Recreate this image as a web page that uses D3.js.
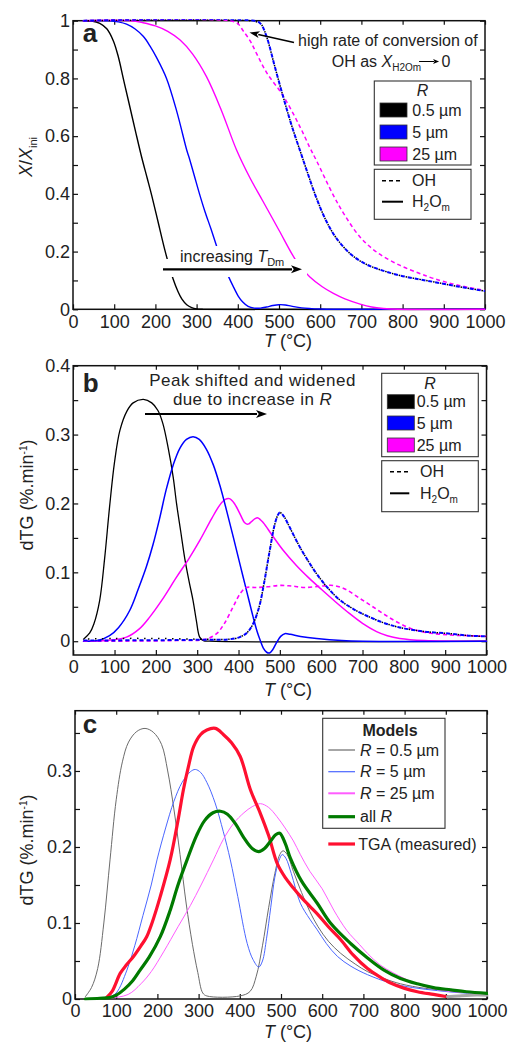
<!DOCTYPE html>
<html>
<head>
<meta charset="utf-8">
<script src="https://cdn.jsdelivr.net/npm/d3@7"></script>
<style>
  body { margin: 0; background: #fff; }
  svg { display: block; }
  text { font-family: "Liberation Sans", Arial, Helvetica, sans-serif; fill: #222; }
</style>
</head>
<body>
<svg id="fig" width="512" height="1042"></svg>
<script>
// ---------- shared axis values ----------
const tempTicks = [0, 100, 200, 300, 400, 500, 600, 700, 800, 900, 1000];
const yMajorA = [0, 0.2, 0.4, 0.6, 0.8, 1];
const yMinorA = [0.1, 0.3, 0.5, 0.7, 0.9];
const yMajorB = [0, 0.1, 0.2, 0.3, 0.4];
const yMinorB = [0.05, 0.15, 0.25, 0.35];
const yMajorC = [0, 0.1, 0.2, 0.3];
const yMinorC = [0.05, 0.15, 0.25, 0.35];

// ---------- panel a: remaining fraction X/X_ini, [T (°C), value] ----------
const aH2Om05 = [[25,1],[45,0.999],[65,0.991],[82,0.972],[98,0.93],[110,0.875],[122,0.8],[135,0.72],[152,0.615],[167,0.525],[180,0.455],[191,0.395],[207,0.3],[223,0.205],[235,0.142],[243,0.105],[254,0.064],[264,0.036],[276,0.016],[288,0.006],[300,0.0015],[315,0],[1000,0]];
const aH2Om5 = [[25,1],[90,1],[110,0.996],[130,0.988],[150,0.972],[171,0.945],[187,0.912],[203,0.872],[227,0.8],[252,0.685],[276,0.552],[282,0.525],[295,0.46],[307,0.4],[320,0.34],[335,0.278],[349,0.217],[362,0.165],[377,0.115],[390,0.076],[401,0.046],[412,0.025],[425,0.01],[440,0.004],[455,0.004],[470,0.008],[485,0.013],[500,0.016],[515,0.015],[530,0.011],[555,0.005],[600,0.001],[650,0],[1000,0]];
const aH2Om25 = [[25,1],[140,1],[170,0.993],[200,0.982],[230,0.963],[260,0.933],[290,0.885],[324,0.806],[360,0.69],[397,0.552],[430,0.454],[460,0.377],[500,0.274],[539,0.174],[557,0.14],[575,0.112],[605,0.078],[632,0.055],[660,0.036],[697,0.018],[725,0.008],[753,0.003],[790,0],[1000,0]];
const aOH05 = [[25,1],[430,1],[448,0.995],[458,0.985],[470,0.944],[490,0.84],[510,0.737],[530,0.64],[551,0.55],[570,0.47],[591,0.385],[615,0.305],[640,0.245],[675,0.19],[713,0.155],[750,0.135],[794,0.117],[840,0.104],[875,0.095],[930,0.08],[1000,0.063]];
const aOH5 = [[25,1],[440,1],[455,0.99],[470,0.944],[490,0.84],[510,0.737],[530,0.64],[551,0.55],[570,0.47],[591,0.385],[615,0.305],[640,0.245],[675,0.19],[713,0.155],[750,0.135],[794,0.117],[840,0.104],[875,0.095],[930,0.08],[1000,0.063]];
const aOH25 = [[25,1],[380,1],[400,0.99],[413,0.965],[430,0.93],[446,0.885],[470,0.82],[510,0.74],[550,0.635],[575,0.56],[591,0.515],[632,0.395],[660,0.325],[697,0.25],[740,0.195],[794,0.152],[840,0.125],[875,0.107],[930,0.085],[1000,0.065]];

// ---------- panel b: modelled dTG (%.min-1) ----------
const bH2Om05 = [[25,0.003],[40,0.012],[50,0.025],[64,0.059],[76,0.12],[88,0.195],[100,0.26],[113,0.306],[130,0.334],[145,0.346],[170,0.351],[190,0.346],[205,0.335],[217,0.316],[230,0.28],[242,0.238],[250,0.2],[260,0.16],[270,0.12],[280,0.088],[290,0.059],[298,0.03],[306,0.006],[315,0.001],[330,0],[1000,0]];
const bH2Om5 = [[25,0],[60,0.001],[88,0.008],[110,0.02],[137,0.045],[157,0.075],[177,0.108],[193,0.14],[209,0.178],[225,0.22],[242,0.256],[258,0.28],[274,0.293],[290,0.297],[305,0.293],[322,0.279],[339,0.256],[355,0.226],[371,0.19],[387,0.152],[403,0.113],[420,0.072],[435,0.036],[445,0.014],[452,0.002],[460,-0.01],[468,-0.016],[475,-0.017],[483,-0.012],[492,-0.002],[502,0.007],[512,0.011],[525,0.01],[550,0.007],[589,0.004],[650,0.001],[700,0],[1000,0]];
const bH2Om25 = [[25,0],[80,0.001],[129,0.006],[160,0.018],[185,0.035],[215,0.06],[250,0.093],[280,0.12],[306,0.146],[335,0.178],[355,0.198],[368,0.206],[378,0.207],[390,0.2],[405,0.183],[415,0.172],[423,0.17],[432,0.174],[440,0.178],[447,0.179],[460,0.172],[480,0.155],[508,0.132],[540,0.11],[570,0.092],[601,0.075],[635,0.057],[669,0.04],[700,0.026],[734,0.014],[760,0.008],[790,0.004],[850,0.001],[1000,0]];
const bOH05 = [[25,0.003],[100,0.004],[200,0.004],[300,0.003],[380,0.003],[403,0.006],[420,0.012],[435,0.025],[450,0.05],[462,0.085],[475,0.13],[487,0.168],[495,0.183],[500,0.187],[510,0.181],[520,0.17],[535,0.152],[550,0.135],[570,0.115],[590,0.097],[615,0.078],[645,0.06],[680,0.046],[710,0.037],[750,0.027],[790,0.02],[850,0.014],[912,0.011],[960,0.008],[1000,0.007]];
const bOH5 = [[25,0.001],[300,0.002],[380,0.003],[403,0.006],[420,0.012],[435,0.025],[450,0.05],[462,0.085],[475,0.13],[487,0.168],[495,0.183],[500,0.187],[510,0.181],[520,0.17],[535,0.152],[550,0.135],[570,0.115],[590,0.097],[615,0.078],[645,0.06],[680,0.046],[710,0.037],[750,0.027],[790,0.02],[850,0.014],[912,0.011],[960,0.008],[1000,0.007]];
const bOH25 = [[25,0],[250,0.001],[320,0.003],[347,0.011],[365,0.025],[387,0.05],[405,0.07],[419,0.078],[440,0.078],[470,0.079],[500,0.081],[530,0.08],[560,0.078],[600,0.08],[629,0.081],[660,0.075],[694,0.062],[720,0.052],[750,0.04],[780,0.029],[815,0.019],[850,0.013],[912,0.009],[960,0.008],[1000,0.007]];

// ---------- panel c: models vs. measured TGA ----------
const cModel05 = [[25,0.003],[40,0.015],[55,0.04],[70,0.1],[85,0.183],[100,0.262],[115,0.312],[130,0.338],[150,0.352],[170,0.356],[190,0.351],[210,0.335],[225,0.3],[240,0.25],[255,0.19],[270,0.125],[285,0.072],[298,0.035],[310,0.008],[320,0.004],[400,0.004],[425,0.01],[440,0.03],[455,0.07],[470,0.12],[485,0.165],[497,0.19],[505,0.195],[515,0.19],[530,0.168],[550,0.14],[570,0.115],[590,0.095],[615,0.076],[645,0.06],[680,0.046],[710,0.036],[750,0.027],[790,0.02],[850,0.014],[910,0.011],[1000,0.007]];
const cModel5 = [[25,0],[80,0.002],[100,0.008],[126,0.038],[145,0.07],[165,0.11],[185,0.15],[199,0.183],[220,0.225],[240,0.26],[260,0.285],[280,0.299],[292,0.302],[305,0.298],[320,0.285],[340,0.258],[360,0.22],[377,0.183],[395,0.135],[418,0.073],[432,0.052],[446,0.042],[455,0.05],[465,0.08],[475,0.12],[485,0.16],[495,0.182],[503,0.19],[512,0.185],[525,0.165],[547,0.126],[570,0.105],[588,0.091],[610,0.073],[637,0.056],[670,0.043],[710,0.032],[766,0.021],[820,0.015],[880,0.011],[940,0.008],[1000,0.007]];
const cModel25 = [[25,0],[80,0.001],[129,0.006],[160,0.02],[185,0.036],[215,0.062],[250,0.095],[280,0.123],[306,0.15],[336,0.183],[360,0.21],[385,0.231],[410,0.245],[430,0.253],[450,0.257],[470,0.252],[490,0.24],[510,0.225],[530,0.208],[547,0.19],[570,0.168],[600,0.145],[628,0.117],[660,0.09],[690,0.072],[710,0.06],[740,0.045],[774,0.034],[820,0.022],[864,0.014],[910,0.01],[960,0.008],[1000,0.007]];
const cAllR = [[25,0],[60,0.001],[85,0.002],[100,0.005],[120,0.013],[140,0.024],[158,0.038],[180,0.055],[207,0.082],[230,0.115],[250,0.15],[272,0.183],[295,0.215],[315,0.235],[335,0.245],[353,0.247],[370,0.243],[390,0.23],[410,0.212],[430,0.198],[446,0.194],[460,0.198],[475,0.208],[487,0.216],[497,0.218],[510,0.205],[523,0.185],[550,0.155],[588,0.126],[620,0.1],[669,0.073],[710,0.054],[750,0.038],[790,0.027],[831,0.02],[870,0.015],[912,0.012],[950,0.0095],[1000,0.0075]];
const cTGA = [[77,0.002],[90,0.01],[110,0.034],[125,0.045],[142,0.056],[160,0.07],[174,0.082],[190,0.105],[207,0.135],[231,0.183],[250,0.235],[263,0.275],[275,0.305],[288,0.332],[305,0.348],[320,0.354],[341,0.356],[360,0.348],[380,0.337],[401,0.319],[426,0.275],[450,0.244],[470,0.215],[491,0.178],[510,0.16],[530,0.146],[547,0.135],[570,0.122],[588,0.112],[615,0.095],[645,0.078],[675,0.058],[710,0.04],[740,0.029],[766,0.021],[800,0.014],[831,0.0096],[870,0.006],[904,0.003]];
const cTGATail = [[904,0.003],[930,0.004],[960,0.005],[1000,0.005]];

// ---------- colours ----------
const COL = { black: "#000000", blue: "#0000ff", magenta: "#ff00ff",
              gray: "#6b6b6b", lblue: "#4a66ff", pink: "#ff5cff", green: "#007a00", red: "#ff1030", tail: "#a8a8a8" };

const svg = d3.select("#fig");
const defs = svg.append("defs");

// text with italic / sub / superscript runs
function rich(parent, x, y, parts, opts = {}) {
  const t = parent.append("text").attr("x", x).attr("y", y)
    .attr("font-size", opts.size || 16).attr("text-anchor", opts.anchor || "start");
  if (opts.weight) t.attr("font-weight", opts.weight);
  if (opts.transform) t.attr("transform", opts.transform);
  if (opts.spacing) t.attr("letter-spacing", opts.spacing);
  let shift = 0;
  parts.forEach(p => {
    const s = t.append("tspan").text(p.t);
    const target = p.sub ? p.sub : (p.sup ? -p.sup : 0);
    s.attr("dy", target - shift);
    shift = target;
    if (p.size) s.attr("font-size", p.size);
    if (p.it) s.attr("font-style", "italic");
  });
  return t;
}

function makePanel(id, cfg) {
  const x = d3.scaleLinear().domain([0, 1000]).range([cfg.left, cfg.right]);
  const y = d3.scaleLinear().domain(cfg.yDomain).range([cfg.bottom, cfg.top]);
  const g = svg.append("g");

  const styleAxis = sel => {
    sel.select(".domain").remove();
    sel.attr("font-size", 18).attr("font-family", '"Liberation Sans", Arial, sans-serif');
    sel.selectAll(".tick line").attr("stroke", "#111").attr("stroke-width", 1.2);
    sel.selectAll(".tick text").attr("fill", "#222");
  };

  g.append("g").attr("transform", `translate(0,${cfg.bottom})`)
    .call(d3.axisBottom(x).tickValues(tempTicks).tickFormat(d3.format("d")).tickSize(-5).tickSizeOuter(0).tickPadding(5.5))
    .call(styleAxis);
  g.append("g").attr("transform", `translate(0,${cfg.top})`)
    .call(d3.axisTop(x).tickValues(tempTicks).tickFormat("").tickSize(-4).tickSizeOuter(0))
    .call(styleAxis);
  g.append("g").attr("transform", `translate(${cfg.left},0)`)
    .call(d3.axisLeft(y).tickValues(cfg.yMajor).tickFormat(d => String(d)).tickSize(-5).tickSizeOuter(0).tickPadding(3))
    .call(styleAxis);
  g.append("g").attr("transform", `translate(${cfg.left},0)`)
    .call(d3.axisLeft(y).tickValues(cfg.yMinor).tickFormat("").tickSize(-5).tickSizeOuter(0))
    .call(styleAxis);
  g.append("g").attr("transform", `translate(${cfg.right},0)`)
    .call(d3.axisRight(y).tickValues(cfg.yMajor.concat(cfg.yMinor)).tickFormat("").tickSize(-5).tickSizeOuter(0))
    .call(styleAxis);

  g.append("rect").attr("x", cfg.left).attr("y", cfg.top)
    .attr("width", cfg.right - cfg.left).attr("height", cfg.bottom - cfg.top)
    .attr("fill", "none").attr("stroke", "#111").attr("stroke-width", 1.5);

  defs.append("clipPath").attr("id", "clip-" + id).append("rect")
    .attr("x", cfg.left - 1).attr("y", cfg.top - 1.5)
    .attr("width", cfg.right - cfg.left + 2).attr("height", cfg.bottom - cfg.top + 3);
  const plot = svg.append("g").attr("clip-path", `url(#clip-${id})`);
  const over = svg.append("g");
  return { x, y, plot, over };
}

function curve(p, data, color, width, dash, offset) {
  const line = d3.line().x(d => p.x(d[0])).y(d => p.y(d[1])).curve(d3.curveCatmullRom.alpha(0.5));
  const path = p.plot.append("path").datum(data).attr("d", line)
    .attr("fill", "none").attr("stroke", color).attr("stroke-width", width)
    .attr("stroke-linejoin", "round").attr("stroke-linecap", dash ? "butt" : "round");
  if (dash) path.attr("stroke-dasharray", dash);
  if (offset) path.attr("stroke-dashoffset", offset);
  return path;
}

function arrow(parent, x1, y1, x2, y2, w, head) {
  const ang = Math.atan2(y2 - y1, x2 - x1);
  const hl = head[0], hw = head[1];
  const bx = x2 - hl * Math.cos(ang), by = y2 - hl * Math.sin(ang);
  parent.append("line").attr("x1", x1).attr("y1", y1).attr("x2", bx + Math.cos(ang)).attr("y2", by + Math.sin(ang))
    .attr("stroke", "#000").attr("stroke-width", w);
  const px = -Math.sin(ang) * hw / 2, py = Math.cos(ang) * hw / 2;
  parent.append("path")
    .attr("d", `M${x2},${y2}L${bx + px},${by + py}L${bx + hl * 0.25 * Math.cos(ang)},${by + hl * 0.25 * Math.sin(ang)}L${bx - px},${by - py}Z`)
    .attr("fill", "#000");
}

// legend with R swatches and OH / H2Om line styles
function legend(p, box) {
  const g = p.over;
  g.append("rect").attr("x", box.x).attr("y", box.y1).attr("width", box.w).attr("height", box.h1)
    .attr("fill", "#fff").attr("stroke", "#333").attr("stroke-width", 1.1);
  g.append("rect").attr("x", box.x).attr("y", box.y2).attr("width", box.w).attr("height", box.h2)
    .attr("fill", "#fff").attr("stroke", "#333").attr("stroke-width", 1.1);
  rich(g, box.x + box.w / 2, box.titleY, [{ t: "R", it: true }], { size: 16, anchor: "middle" });
  const items = [["0.5 µm", COL.black], ["5 µm", COL.blue], ["25 µm", COL.magenta]];
  items.forEach((it, i) => {
    g.append("rect").attr("x", box.sx).attr("y", box.rows[i] - 7).attr("width", 27).attr("height", 14)
      .attr("fill", it[1]).attr("stroke", "#333").attr("stroke-width", 0.8);
    rich(g, box.tx, box.rows[i] + 5.7, [{ t: it[0] }], { size: 16 });
  });
  g.append("line").attr("x1", box.lx1).attr("x2", box.lx2).attr("y1", box.ohY).attr("y2", box.ohY)
    .attr("stroke", "#000").attr("stroke-width", 1.6).attr("stroke-dasharray", "4,3");
  rich(g, box.ltx, box.ohY + 5.7, [{ t: "OH" }], { size: 16 });
  g.append("line").attr("x1", box.lx1).attr("x2", box.lx2).attr("y1", box.hY).attr("y2", box.hY)
    .attr("stroke", "#000").attr("stroke-width", 2);
  rich(g, box.ltx, box.hY + 5.7, [{ t: "H" }, { t: "2", sub: 4, size: 10 }, { t: "O" }, { t: "m", sub: 4, size: 10 }], { size: 16 });
}

// ================= panel a =================
const pa = makePanel("a", { left: 73, right: 485, top: 20.7, bottom: 309.3, yDomain: [0, 1], yMajor: yMajorA, yMinor: yMinorA });
curve(pa, aH2Om05, COL.black, 1.4);
curve(pa, aH2Om5, COL.blue, 1.4);
curve(pa, aH2Om25, COL.magenta, 1.4);
curve(pa, aOH25, COL.magenta, 1.5, "4,3");
curve(pa, aOH5, COL.blue, 2, "4,3");
curve(pa, aOH05, COL.black, 1.5, "1.5,5.5", 2.5);

// label band behind the "increasing T_Dm" arrow
pa.over.append("rect").attr("x", 176).attr("y", 246).attr("width", 110).attr("height", 16).attr("fill", "#fff");
pa.over.append("rect").attr("x", 160).attr("y", 259).attr("width", 147).attr("height", 18).attr("fill", "#fff");
rich(pa.over, 180, 262.4, [{ t: "increasing " }, { t: "T", it: true }, { t: "Dm", sub: 4, size: 11 }], { size: 16 });
arrow(pa.over, 163, 269.3, 302, 269.3, 2.2, [11, 8]);

rich(pa.over, 298, 45.7, [{ t: "high rate of conversion of" }], { size: 16 });
const ohText = rich(pa.over, 331.7, 67.4, [{ t: "OH as " }, { t: "X", it: true }, { t: "H2Om", sub: 4, size: 10 }], { size: 16 });
const ohEnd = 331.7 + ohText.node().getComputedTextLength();
arrow(pa.over, ohEnd - 2, 61.5, ohEnd + 18, 61.5, 1, [6, 5]);
rich(pa.over, ohEnd + 20.5, 67.4, [{ t: "0" }], { size: 16 });
arrow(pa.over, 294, 42.5, 249.5, 32.5, 1.6, [10, 7]);

rich(pa.over, 82.7, 41.7, [{ t: "a" }], { size: 26, weight: "bold" });

legend(pa, { x: 374.3, w: 96.7, y1: 81, h1: 84, y2: 169.3, h2: 50, titleY: 95.7,
  sx: 380, tx: 412.3, rows: [110, 132, 154], lx1: 382, lx2: 403, ltx: 412, ohY: 180.7, hY: 201.7 });

rich(pa.over, 288, 346.9, [{ t: "T", it: true }, { t: " (°C)" }], { size: 18, anchor: "middle" });
rich(svg, 0, 0, [{ t: "X", it: true }, { t: "/" }, { t: "X", it: true }, { t: "ini", sub: 5, size: 11 }],
  { size: 18, anchor: "middle", transform: "translate(32,157) rotate(-90)" });

// ================= panel b =================
const pb = makePanel("b", { left: 73.2, right: 486.5, top: 365.7, bottom: 655, yDomain: [-0.02, 0.4], yMajor: yMajorB, yMinor: yMinorB });
curve(pb, bH2Om05, COL.black, 1.3);
curve(pb, bH2Om25, COL.magenta, 1.5);
curve(pb, bH2Om5, COL.blue, 1.5);
curve(pb, bOH25, COL.magenta, 1.6, "4,3");
curve(pb, bOH5, COL.blue, 2, "4,3");
curve(pb, bOH05, COL.black, 1.5, "1.5,5.5", 2.5);

rich(pb.over, 82.7, 391.7, [{ t: "b" }], { size: 26, weight: "bold" });
rich(pb.over, 252.5, 386, [{ t: "Peak shifted and widened" }], { size: 17, anchor: "middle", spacing: 0.5 });
rich(pb.over, 252.5, 405, [{ t: "due to increase in " }, { t: "R", it: true }], { size: 17, anchor: "middle", spacing: 0.4 });
arrow(pb.over, 145, 414, 267, 414, 2.2, [11, 8]);

legend(pb, { x: 381.7, w: 96.6, y1: 373.3, h1: 83.4, y2: 460.7, h2: 51, titleY: 389,
  sx: 387.3, tx: 416.7, rows: [401.7, 423, 445], lx1: 390, lx2: 409.3, ltx: 420, ohY: 471.7, hY: 493.3 });

rich(pb.over, 288, 696.4, [{ t: "T", it: true }, { t: " (°C)" }], { size: 18, anchor: "middle" });
rich(svg, 0, 0, [{ t: "dTG (%.min" }, { t: "-1", sup: 6, size: 10 }, { t: ")" }],
  { size: 18, anchor: "middle", transform: "translate(33,495) rotate(-90)" });

// ================= panel c =================
const pc = makePanel("c", { left: 75, right: 487, top: 710.7, bottom: 999, yDomain: [0, 0.3793], yMajor: yMajorC, yMinor: yMinorC });
curve(pc, cModel05, COL.gray, 1);
curve(pc, cModel5, COL.lblue, 1);
curve(pc, cModel25, COL.pink, 1);
curve(pc, cTGA, COL.red, 3.2);
curve(pc, cTGATail, COL.tail, 3);
curve(pc, cAllR, COL.green, 3.2);

rich(pc.over, 82.7, 733.3, [{ t: "c" }], { size: 26, weight: "bold" });

// legend c
(function () {
  const g = pc.over;
  g.append("rect").attr("x", 322.7).attr("y", 718.3).attr("width", 122.3).attr("height", 110)
    .attr("fill", "#fff").attr("stroke", "#333").attr("stroke-width", 1.1);
  rich(g, 390, 735.7, [{ t: "Models" }], { size: 16, anchor: "middle", weight: "bold" });
  const rows = [
    { y: 750, c: COL.gray, w: 1.2, parts: [{ t: "R", it: true }, { t: " = 0.5 µm" }] },
    { y: 771.7, c: COL.lblue, w: 1.2, parts: [{ t: "R", it: true }, { t: " = 5 µm" }] },
    { y: 793.3, c: COL.pink, w: 2, parts: [{ t: "R", it: true }, { t: " = 25 µm" }] },
    { y: 816.7, c: COL.green, w: 3.2, parts: [{ t: "all " }, { t: "R", it: true }] }
  ];
  rows.forEach(r => {
    g.append("line").attr("x1", 328.3).attr("x2", 355).attr("y1", r.y).attr("y2", r.y)
      .attr("stroke", r.c).attr("stroke-width", r.w);
    rich(g, 360, r.y + 5.7, r.parts, { size: 16 });
  });
  g.append("line").attr("x1", 328.3).attr("x2", 355).attr("y1", 844).attr("y2", 844)
    .attr("stroke", COL.red).attr("stroke-width", 3.2);
  rich(g, 358.3, 849.7, [{ t: "TGA (measured)" }], { size: 16 });
})();

rich(pc.over, 288, 1037.5, [{ t: "T", it: true }, { t: " (°C)" }], { size: 18, anchor: "middle" });
rich(svg, 0, 0, [{ t: "dTG (%.min" }, { t: "-1", sup: 6, size: 10 }, { t: ")" }],
  { size: 18, anchor: "middle", transform: "translate(33,850) rotate(-90)" });
</script>
</body>
</html>
